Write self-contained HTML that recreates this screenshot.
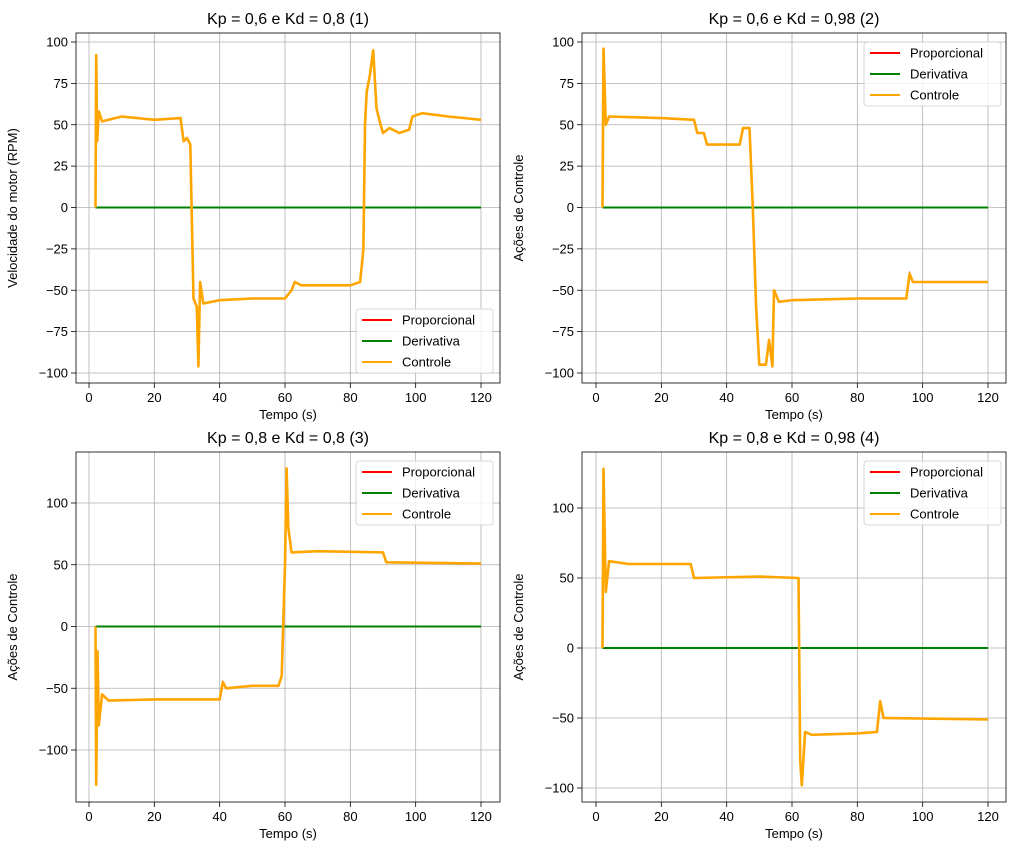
<!DOCTYPE html>
<html><head><meta charset="utf-8">
<style>
html,body{margin:0;padding:0;background:#fff;}
svg{display:block;font-family:"Liberation Sans","DejaVu Sans",sans-serif;}
</style></head>
<body>
<svg id="fig" width="1017" height="855" viewBox="0 0 1017 855" xmlns="http://www.w3.org/2000/svg"></svg>
<script>
// ---- data ----
const xTicks = [0,20,40,60,80,100,120];
const yTicks12 = [100,75,50,25,0,-25,-50,-75,-100];
const yTicks34 = [100,50,0,-50,-100];
const titles = ["Kp = 0,6 e Kd = 0,8 (1)","Kp = 0,6 e Kd = 0,98 (2)","Kp = 0,8 e Kd = 0,8 (3)","Kp = 0,8 e Kd = 0,98 (4)"];
const yLabels = ["Velocidade do motor (RPM)","Ações de Controle","Ações de Controle","Ações de Controle"];
const seriesNames = ["Proporcional","Derivativa","Controle"];
const seriesColors = ["red","green","orange"];
const t1 = [2,2.2,2.5,3,4,10,20,28,29,30,31,32,33,33.5,34,35,40,50,60,62,63,65,80,83,84,84.5,85,86,87,88,89,90,92,95,98,99,102,110,120];
const v1 = [0,92,40,58,52,55,53,54,40,42,38,-55,-60,-96,-45,-58,-56,-55,-55,-50,-45,-47,-47,-45,-25,50,70,80,95,60,52,45,48,45,47,55,57,55,53];
const t2 = [2,2.3,3,4,20,30,31,33,34,36,44,45,47,48,49,50,52,53,54,54.5,56,60,80,95,96,97,120];
const v2 = [0,96,50,55,54,53,45,45,38,38,38,48,48,0,-60,-95,-95,-80,-96,-50,-57,-56,-55,-55,-40,-45,-45];
const t3 = [2,2.2,2.6,3,4,6,20,40,41,42,50,58,59,60,60.5,61,62,70,90,91,120];
const v3 = [0,-128,-20,-80,-55,-60,-59,-59,-45,-50,-48,-48,-40,50,128,80,60,61,60,52,51];
const t4 = [2,2.3,3,4,10,29,30,50,62,62.5,63,64,66,80,86,87,88,120];
const v4 = [0,128,40,62,60,60,50,51,50,-80,-98,-60,-62,-61,-60,-38,-50,-51];
const tDeriv = [2,120];
const vDeriv = [0,0];

// ---- layout ----
const panels = [
 {L:76,R:500,T:33,B:383,x0:89,x1:481,yv0:100,yp0:42,yv1:-100,yp1:373,yt:yTicks12,t:t1,v:v1,leg:[356,309]},
 {L:582,R:1006,T:33,B:383,x0:596,x1:988,yv0:100,yp0:42,yv1:-100,yp1:373,yt:yTicks12,t:t2,v:v2,leg:[864,42]},
 {L:76,R:500,T:452,B:802,x0:89,x1:481,yv0:100,yp0:503,yv1:-100,yp1:750,yt:yTicks34,t:t3,v:v3,leg:[356,461]},
 {L:582,R:1006,T:452,B:802,x0:596,x1:988,yv0:100,yp0:508,yv1:-100,yp1:788,yt:yTicks34,t:t4,v:v4,leg:[864,461]}
];
const NS="http://www.w3.org/2000/svg";
const svg=document.getElementById('fig');
function mk(tag,attrs,parent){const e=document.createElementNS(NS,tag);for(const k in attrs)e.setAttribute(k,attrs[k]);(parent||svg).appendChild(e);return e;}

panels.forEach((p,i)=>{
  const g=mk('g',{});
  
  
  const X=t=>p.x0+(t-0)*(p.x1-p.x0)/120;
  const Y=v=>p.yp0+(v-p.yv0)*(p.yp1-p.yp0)/(p.yv1-p.yv0);
  xTicks.forEach(t=>{
    const l=mk('line',{x1:X(t),x2:X(t),y1:p.T,y2:p.B,stroke:'#b0b0b0','stroke-width':0.8},g);
    
    
    mk('line',{x1:X(t),x2:X(t),y1:p.B,y2:p.B+5,stroke:'#000','stroke-width':0.8},g);
    const tx=mk('text',{x:X(t),y:p.B+19,'text-anchor':'middle','font-size':13},g);
    tx.textContent=t;
    
    
  });
  p.yt.forEach(v=>{
    const l=mk('line',{x1:p.L,x2:p.R,y1:Y(v),y2:Y(v),stroke:'#b0b0b0','stroke-width':0.8},g);
    
    
    mk('line',{x1:p.L-5,x2:p.L,y1:Y(v),y2:Y(v),stroke:'#000','stroke-width':0.8},g);
    const tx=mk('text',{x:p.L-8,y:Y(v)+4.5,'text-anchor':'end','font-size':13},g);
    tx.textContent=(v<0?'\u2212'+(-v):v);
    
    
  });
  const pts=(ts,vs)=>ts.map((t,k)=>X(t).toFixed(1)+','+Y(vs[k]).toFixed(1)).join(' ');
  const s0=mk('polyline',{points:pts(p.t,p.v),fill:'none',stroke:'red','stroke-width':1.5},g);
  
  
  const s1=mk('polyline',{points:pts(tDeriv,vDeriv),fill:'none',stroke:'green','stroke-width':2},g);
  
  
  const s2=mk('polyline',{points:pts(p.t,p.v),fill:'none',stroke:'orange','stroke-width':2.6,'stroke-linejoin':'round'},g);
  
  
  const fr=mk('rect',{x:p.L,y:p.T,width:p.R-p.L,height:p.B-p.T,fill:'none',stroke:'#000','stroke-width':0.8},g);
  
  
  const ti=mk('text',{x:(p.L+p.R)/2,y:p.T-9,'text-anchor':'middle','font-size':16},g);
  ti.textContent=titles[i];
  
  
  const xl=mk('text',{x:(p.L+p.R)/2,y:p.B+36,'text-anchor':'middle','font-size':13},g);
  xl.textContent='Tempo (s)';
  
  
  const yx=p.L-59, yc=(p.T+p.B)/2;
  const yl=mk('text',{x:yx,y:yc,'text-anchor':'middle','font-size':13,transform:`rotate(-90 ${yx} ${yc})`},g);
  yl.textContent=yLabels[i];
  
  
  const [lx,ly]=p.leg;
  const lg=mk('g',{},g);
  
  
  mk('rect',{x:lx,y:ly,width:137,height:64,rx:3,fill:'#fff','fill-opacity':0.8,stroke:'#ccc','stroke-width':0.8},lg);
  seriesNames.forEach((n,k)=>{
    const yy=ly+11+k*21;
    mk('line',{x1:lx+6,x2:lx+36,y1:yy,y2:yy,stroke:seriesColors[k],'stroke-width':2},lg);
    const et=mk('text',{x:lx+46,y:yy+4.5,'font-size':13},lg);
    et.textContent=n;
    
    
  });
});
</script>
</body></html>
